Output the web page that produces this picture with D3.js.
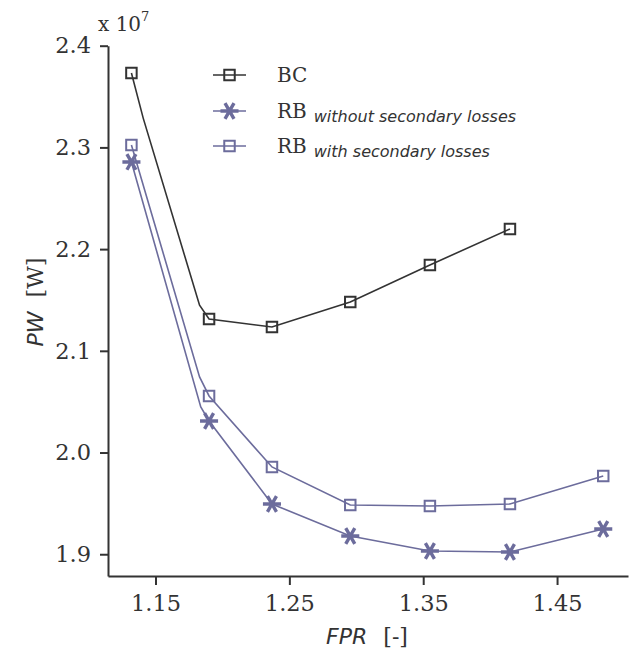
<!DOCTYPE html>
<html>
<head>
<meta charset="utf-8">
<script src="https://cdn.jsdelivr.net/npm/d3@7"></script>
<style>
  body { margin: 0; background: #fff; }
  svg { display: block; }
</style>
</head>
<body>
<svg id="chart" width="632" height="655"></svg>
<script>
// marker positions (FPR)
const fpr = [1.132, 1.19, 1.237, 1.2955, 1.355, 1.4148, 1.4845];

// PW values, in units of 1e7 W
const bc = [2.3732, 2.1313, 2.1234, 2.148, 2.1844, 2.2198];
const rbWithout = [2.2857, 2.031, 1.9494, 1.9179, 1.9032, 1.9022, 1.9248];
const rbWith = [2.3024, 2.0556, 1.9858, 1.9484, 1.9474, 1.9494, 1.9769];

// extra line vertices (no marker)
const bcBends = [[1.1408, 2.3288], [1.1829, 2.1448]];
const rbWithoutBends = [[1.1838, 2.0448]];
const rbWithBends = [[1.1829, 2.0743]];

const yTicks = [1.9, 2.0, 2.1, 2.2, 2.3, 2.4];
const xTicks = [1.15, 1.25, 1.35, 1.45];

const dark = '#333333';
const rbColor = '#6c6c9c';

const svg = d3.select('#chart');
const margin = { left: 108, right: 4, top: 45.7, bottom: 79 };
const width = 632, height = 655;

const x = d3.scaleLinear().domain([1.1145, 1.503]).range([margin.left, width - margin.right]);
const y = d3.scaleLinear().domain([1.8786, 2.4]).range([height - margin.bottom, margin.top]);

// axes
const yAxis = svg.append('g')
  .attr('transform', `translate(${margin.left},0)`)
  .call(d3.axisLeft(y).tickValues(yTicks).tickFormat(d3.format('.1f')).tickSize(8).tickSizeOuter(0).tickPadding(9));
const xAxis = svg.append('g')
  .attr('transform', `translate(0,${height - margin.bottom})`)
  .call(d3.axisBottom(x).tickValues(xTicks).tickFormat(d3.format('.2f')).tickSize(9).tickSizeOuter(0).tickPadding(10));

[xAxis, yAxis].forEach(a => {
  a.select('.domain').attr('stroke', dark).attr('stroke-width', 2);
  a.selectAll('.tick line').attr('stroke', dark).attr('stroke-width', 2);
  a.selectAll('.tick text')
    .attr('fill', dark)
    .style('font-family', '"DejaVu Serif", serif')
    .style('font-size', '22.5px');
});

// exponent
const expo = svg.append('text')
  .attr('x', 98).attr('y', 31)
  .attr('fill', dark)
  .style('font-family', '"DejaVu Serif", serif')
  .style('font-size', '20px');
expo.append('tspan').text('x 10');
expo.append('tspan').attr('dy', -10).style('font-size', '13px').text('7');

// axis titles
const yTitle = svg.append('text')
  .attr('transform', `translate(43,302) rotate(-90)`)
  .attr('text-anchor', 'middle')
  .attr('fill', dark)
  .style('font-size', '22px');
yTitle.append('tspan').style('font-family', '"DejaVu Sans", sans-serif').style('font-style', 'italic').text('PW');
yTitle.append('tspan').attr('dx', 14).style('font-family', '"DejaVu Serif", serif').text('[W]');

const xTitle = svg.append('text')
  .attr('x', 367).attr('y', 644)
  .attr('text-anchor', 'middle')
  .attr('fill', dark)
  .style('font-size', '22px');
xTitle.append('tspan').style('font-family', '"DejaVu Sans", sans-serif').style('font-style', 'italic').text('FPR');
xTitle.append('tspan').attr('dx', 16).style('font-family', '"DejaVu Serif", serif').text('[-]');

// lines
const line = d3.line().x(d => x(d[0])).y(d => y(d[1]));
function withBends(vals, bends) {
  const pts = vals.map((v, i) => [fpr[i], v]).concat(bends);
  return pts.sort((a, b) => a[0] - b[0]);
}

const series = [
  { name: 'bc', vals: bc, bends: bcBends, color: dark, marker: 'square' },
  { name: 'rbWith', vals: rbWith, bends: rbWithBends, color: rbColor, marker: 'square' },
  { name: 'rbWithout', vals: rbWithout, bends: rbWithoutBends, color: rbColor, marker: 'star' }
];

const squareSym = d3.symbol().type(d3.symbolSquare).size(110);
const starSym = d3.symbol().type(d3.symbolAsterisk).size(230);

function drawMarker(g, type, color) {
  if (type === 'square') {
    g.append('path').attr('d', squareSym()).attr('fill', 'none').attr('stroke', color).attr('stroke-width', 2);
  } else {
    g.append('path').attr('d', starSym()).attr('fill', 'none').attr('stroke', color).attr('stroke-width', 3.4)
      .attr('transform', 'rotate(90)');
  }
}

series.forEach(s => {
  svg.append('path')
    .datum(withBends(s.vals, s.bends))
    .attr('d', line)
    .attr('fill', 'none')
    .attr('stroke', s.color)
    .attr('stroke-width', 1.6);

  svg.append('g').selectAll('g')
    .data(s.vals)
    .enter().append('g')
    .attr('transform', (d, i) => `translate(${x(fpr[i])},${y(d)})`)
    .each(function () { drawMarker(d3.select(this), s.marker, s.color); });
});

// legend
const legendItems = [
  { label: 'BC', sub: '', color: dark, marker: 'square' },
  { label: 'RB', sub: 'without secondary losses', color: rbColor, marker: 'star' },
  { label: 'RB', sub: 'with secondary losses', color: rbColor, marker: 'square' }
];
const legendY = [75, 111, 146];
legendItems.forEach((it, i) => {
  const g = svg.append('g').attr('transform', `translate(213,${legendY[i]})`);
  g.append('line').attr('x1', 0).attr('x2', 33).attr('stroke', it.color).attr('stroke-width', 1.6);
  const m = g.append('g').attr('transform', 'translate(16.5,0)');
  drawMarker(m, it.marker, it.color);
  const t = g.append('text').attr('x', 64).attr('y', 7).attr('fill', dark);
  t.append('tspan')
    .style('font-family', '"DejaVu Serif", serif')
    .style('font-size', '20px')
    .text(it.label);
  if (it.sub) {
    t.append('tspan')
      .attr('dx', 7).attr('dy', 4)
      .style('font-family', '"DejaVu Sans", sans-serif')
      .style('font-style', 'italic')
      .style('font-size', '16px')
      .text(it.sub);
  }
});
</script>
</body>
</html>
